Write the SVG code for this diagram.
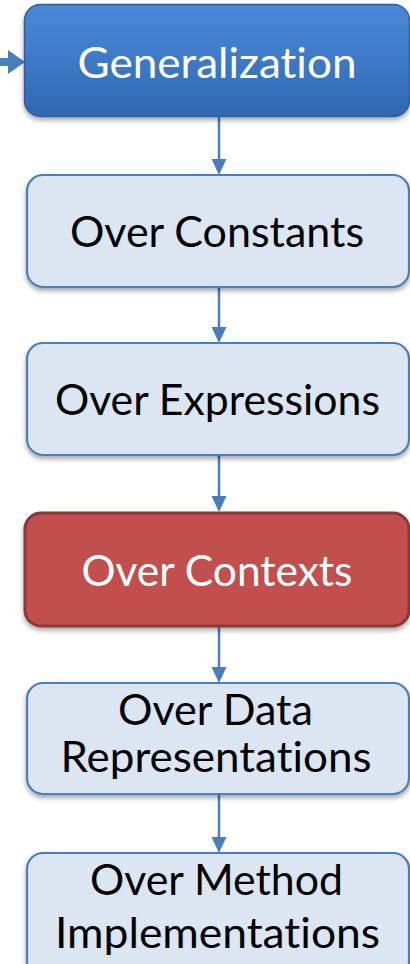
<svg xmlns="http://www.w3.org/2000/svg" width="410" height="964" viewBox="0 0 410 964">
<defs>
<linearGradient id="gBlue" x1="0" y1="0" x2="0" y2="1">
<stop offset="0" stop-color="#4b8ad8"/>
<stop offset="0.5" stop-color="#3d79c6"/>
<stop offset="1" stop-color="#3068b0"/>
</linearGradient>
<filter id="sh" x="-10%" y="-10%" width="120%" height="130%">
<feDropShadow dx="0" dy="3" stdDeviation="2.5" flood-color="#000" flood-opacity="0.35"/>
</filter>
</defs>
<style>
.lt{fill:#dce6f2;stroke:#4a7ebb;stroke-width:2.2;filter:url(#sh)}
.tk,.tw{font-family:Lato,"Noto Sans",sans-serif;font-size:42px;text-anchor:middle;font-variant-ligatures:none;font-feature-settings:"liga" 0,"clig" 0}
.tk{fill:#000}
.tw{fill:#fff}
.cn{stroke:#4a7ebb;stroke-width:2.5;fill:none}
.hd{fill:#4a7ebb}
</style>
<g id="connectors">
<rect x="0" y="58" width="9" height="8" class="hd"/>
<polygon points="8,50 25,62 8,74" class="hd"/>
<line x1="219" y1="117" x2="219" y2="160" class="cn"/>
<polygon points="211.5,159 226.5,159 219,175" class="hd"/>
<line x1="219" y1="287" x2="219" y2="328" class="cn"/>
<polygon points="211.5,327 226.5,327 219,343" class="hd"/>
<line x1="219" y1="455" x2="219" y2="497" class="cn"/>
<polygon points="211.5,496 226.5,496 219,512" class="hd"/>
<line x1="219" y1="627" x2="219" y2="668" class="cn"/>
<polygon points="211.5,667 226.5,667 219,683" class="hd"/>
<line x1="219" y1="794" x2="219" y2="838" class="cn"/>
<polygon points="211.5,837 226.5,837 219,853" class="hd"/>
</g>
<g id="generalization">
<rect x="24.5" y="4.5" width="385" height="112" rx="16" fill="url(#gBlue)" stroke="#2f5f9c" stroke-width="1.5" filter="url(#sh)"/>
<text x="217" y="78" class="tw" textLength="279" lengthAdjust="spacingAndGlyphs">Generalization</text>
</g>
<g id="over-constants">
<rect x="27" y="175" width="382" height="112" rx="16" class="lt"/>
<text x="217" y="247" class="tk" textLength="294" lengthAdjust="spacingAndGlyphs">Over Constants</text>
</g>
<g id="over-expressions">
<rect x="27" y="343" width="382" height="112" rx="16" class="lt"/>
<text x="217.5" y="415" class="tk" textLength="325" lengthAdjust="spacingAndGlyphs">Over Expressions</text>
</g>
<g id="over-contexts">
<rect x="25" y="513" width="384" height="113" rx="16" fill="#c0504d" stroke="#8c3836" stroke-width="3" filter="url(#sh)"/>
<text x="217" y="586" class="tw" textLength="271" lengthAdjust="spacingAndGlyphs">Over Contexts</text>
</g>
<g id="over-data-representations">
<rect x="27" y="683" width="382" height="111" rx="16" class="lt"/>
<text x="215.5" y="725" class="tk" textLength="195" lengthAdjust="spacingAndGlyphs">Over Data</text>
<text x="216" y="772" class="tk" textLength="311" lengthAdjust="spacingAndGlyphs">Representations</text>
</g>
<g id="over-method-implementations">
<rect x="27" y="853" width="382" height="125" rx="16" class="lt"/>
<text x="216.5" y="895" class="tk" textLength="253" lengthAdjust="spacingAndGlyphs">Over Method</text>
<text x="217.5" y="948" class="tk" textLength="325" lengthAdjust="spacingAndGlyphs">Implementations</text>
</g>
</svg>
